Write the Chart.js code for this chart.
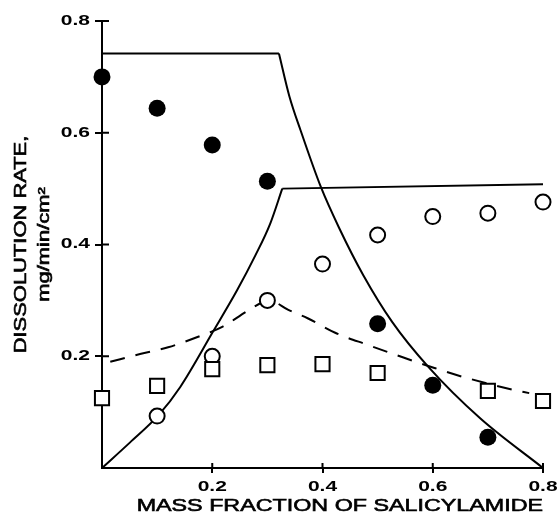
<!DOCTYPE html>
<html>
<head>
<meta charset="utf-8">
<script src="https://cdn.jsdelivr.net/npm/chart.js@4.4.0/dist/chart.umd.min.js"></script>
<style>
  html, body { margin: 0; padding: 0; background: #fff; }
  #wrap { width: 560px; height: 515px; }
</style>
</head>
<body>
<div id="wrap"><canvas id="c" width="560" height="515"></canvas></div>
<script>
// ---- data ----
const tickValues = [0.2, 0.4, 0.6, 0.8];
const xTitle = 'MASS FRACTION OF SALICYLAMIDE';
const yTitle = ['DISSOLUTION RATE,', 'mg/min/cm\u00B2'];

const filledX = [0, 0.1, 0.2, 0.3, 0.5, 0.6, 0.7];
const filledY = [0.70, 0.644, 0.578, 0.513, 0.258, 0.148, 0.055];

const openX = [0.1, 0.2, 0.3, 0.4, 0.5, 0.6, 0.7, 0.8];
const openY = [0.093, 0.20, 0.30, 0.365, 0.417, 0.45, 0.456, 0.476];

const squareX = [0, 0.1, 0.2, 0.3, 0.4, 0.5, 0.7, 0.8];
const squareY = [0.125, 0.147, 0.177, 0.184, 0.186, 0.17, 0.138, 0.12];

// upper solid curve: plateau then falling branch
const upperFlatX = [0, 0.321];
const upperFlatY = [0.742, 0.742];
const upperFallX = [0.321, 0.34, 0.36, 0.397, 0.43, 0.474, 0.526, 0.592, 0.686, 0.8];
const upperFallY = [0.742, 0.665, 0.605, 0.503, 0.43, 0.345, 0.262, 0.181, 0.089, 0.0];

// lower solid curve: rising branch then plateau
const lowerRiseX = [0, 0.05, 0.103, 0.142, 0.202, 0.245, 0.278, 0.305, 0.327];
const lowerRiseY = [0, 0.045, 0.095, 0.145, 0.245, 0.318, 0.38, 0.437, 0.50];
const lowerFlatX = [0.327, 0.8];
const lowerFlatY = [0.50, 0.508];

// dashed curve
const dashX = [0.015, 0.069, 0.12, 0.172, 0.219, 0.267, 0.303, 0.338, 0.373, 0.423, 0.483, 0.543, 0.603, 0.655, 0.746, 0.775];
const dashY = [0.19, 0.204, 0.216, 0.234, 0.253, 0.283, 0.30, 0.283, 0.268, 0.242, 0.22, 0.199, 0.179, 0.163, 0.14, 0.134];

const pts = (xs, ys) => xs.map((x, i) => ({ x, y: ys[i] }));

const FONT = "'Liberation Sans', Arial, Helvetica, sans-serif";

// the reference lettering is a wide, heavy face: stretch text horizontally around its anchor
const canvas = document.getElementById('c');
const ctx2d = canvas.getContext('2d');
const origFillText = ctx2d.fillText.bind(ctx2d);
const origStrokeText = ctx2d.strokeText.bind(ctx2d);
ctx2d.fillText = function (text, x, y, maxWidth) {
  const bold = /bold/.test(this.font);
  const sx = bold ? 1.5 : 1.37;
  this.save();
  this.translate(x, y);
  this.scale(sx, 1);
  if (maxWidth === undefined) origFillText(text, 0, 0);
  else origFillText(text, 0, 0, maxWidth / sx);
  if (!bold) {
    this.strokeStyle = this.fillStyle;
    this.lineWidth = 0.6;
    if (maxWidth === undefined) origStrokeText(text, 0, 0);
    else origStrokeText(text, 0, 0, maxWidth / sx);
  }
  this.restore();
};

const lineDs = (xs, ys, extra) => Object.assign({
  data: pts(xs, ys), showLine: true, borderColor: '#000', borderWidth: 2,
  pointRadius: 0, pointHoverRadius: 0, fill: false, order: 2, clip: false
}, extra || {});

// small inward halves of the tick marks (ticks cross the axis lines)
const innerTicks = {
  id: 'innerTicks',
  afterDraw(chart) {
    const { ctx, chartArea, scales } = chart;
    ctx.save();
    ctx.strokeStyle = '#000';
    ctx.lineWidth = 2;
    ctx.beginPath();
    tickValues.forEach(v => {
      const px = scales.x.getPixelForValue(v);
      ctx.moveTo(px, chartArea.bottom);
      ctx.lineTo(px, chartArea.bottom - 5);
      const py = scales.y.getPixelForValue(v);
      ctx.moveTo(chartArea.left, py);
      ctx.lineTo(chartArea.left + 7, py);
    });
    ctx.stroke();
    ctx.restore();
  }
};

new Chart(canvas, {
  type: 'scatter',
  data: {
    datasets: [
      lineDs(upperFlatX, upperFlatY),
      lineDs(upperFallX, upperFallY, { cubicInterpolationMode: 'monotone' }),
      lineDs(lowerRiseX, lowerRiseY, { cubicInterpolationMode: 'monotone' }),
      lineDs(lowerFlatX, lowerFlatY),
      lineDs(dashX, dashY, { cubicInterpolationMode: 'monotone', borderDash: [15, 11] }),
      {
        data: pts(squareX, squareY), pointStyle: 'rect', pointRadius: 10, pointHoverRadius: 10,
        backgroundColor: '#fff', borderColor: '#000', pointBorderWidth: 2, borderWidth: 2, order: 1, clip: false
      },
      {
        data: pts(openX, openY), pointStyle: 'circle', pointRadius: 7.5, pointHoverRadius: 7.5,
        backgroundColor: '#fff', borderColor: '#000', pointBorderWidth: 2, borderWidth: 2, order: 1, clip: false
      },
      {
        data: pts(filledX, filledY), pointStyle: 'circle', pointRadius: 8.5, pointHoverRadius: 8.5,
        backgroundColor: '#000', borderColor: '#000', pointBorderWidth: 0, borderWidth: 0, order: 0, clip: false
      }
    ]
  },
  options: {
    responsive: false,
    animation: false,
    events: [],
    layout: { padding: { top: 21, right: 17, left: 0, bottom: 0 } },
    plugins: { legend: { display: false }, tooltip: { enabled: false } },
    scales: {
      x: {
        type: 'linear', min: 0, max: 0.8,
        afterFit(s) { s.height = 47; },
        border: { display: true, color: '#000', width: 2 },
        grid: {
          drawOnChartArea: false, drawTicks: true, tickLength: 5, lineWidth: 2,
          color: c => (c.tick && c.tick.value === 0) ? 'rgba(0,0,0,0)' : '#000'
        },
        ticks: {
          stepSize: 0.2, color: '#000', padding: 6, maxRotation: 0,
          font: { family: FONT, size: 14, weight: 'bold' },
          callback: v => (Math.abs(v) < 1e-9 ? '' : v.toFixed(1))
        },
        title: {
          display: true, text: xTitle, color: '#000', align: 'end',
          font: { family: FONT, size: 17, lineHeight: 1 },
          padding: { top: 0, bottom: 0 }
        }
      },
      y: {
        type: 'linear', min: 0, max: 0.8,
        afterFit(s) { s.width = 102; },
        border: { display: true, color: '#000', width: 2 },
        grid: {
          drawOnChartArea: false, drawTicks: true, tickLength: 7, lineWidth: 2,
          color: c => (c.tick && c.tick.value === 0) ? 'rgba(0,0,0,0)' : '#000'
        },
        ticks: {
          stepSize: 0.2, color: '#000', padding: 5,
          font: { family: FONT, size: 14, weight: 'bold' },
          callback: v => (Math.abs(v) < 1e-9 ? '' : v.toFixed(1))
        },
        title: {
          display: true, text: yTitle, color: '#000',
          font: { family: FONT, size: 16, lineHeight: 1.44 },
          padding: { top: 10, bottom: 0 }
        }
      }
    }
  },
  plugins: [innerTicks]
});
</script>
</body>
</html>
